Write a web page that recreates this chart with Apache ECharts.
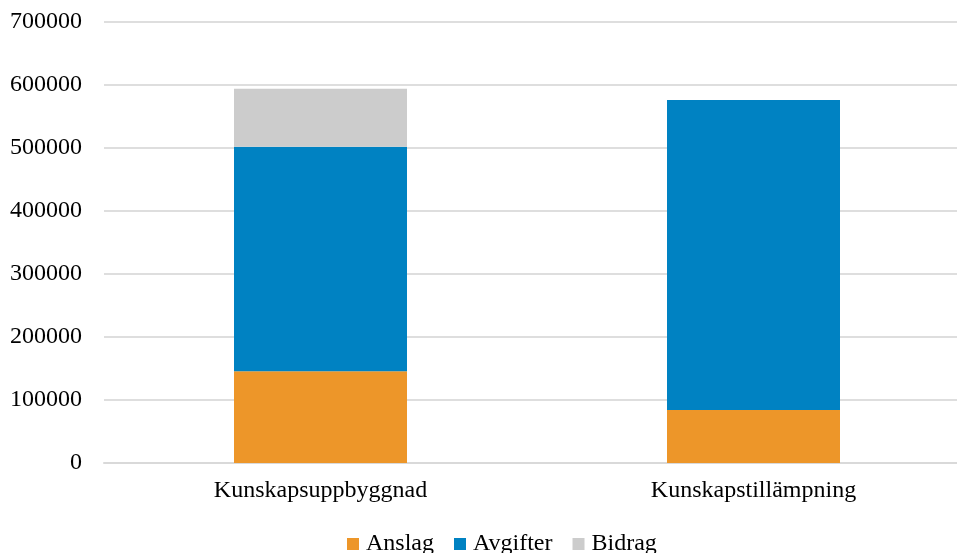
<!DOCTYPE html>
<html>
<head>
<meta charset="utf-8">
<script src="https://cdn.jsdelivr.net/npm/echarts@6/dist/echarts.min.js"></script>
<style>
  html, body { margin: 0; padding: 0; background: #fff; overflow: hidden; width: 957px; height: 553px; }
  #chart { width: 970px; height: 553px; }
</style>
</head>
<body>
<div id="chart"></div>
<script>
// Funding by activity area, stacked by source
const categories = ['Kunskapsuppbyggnad', 'Kunskapstillämpning'];
const anslag = [145500, 84000];
const avgifter = [356500, 492000];
const bidrag = [92000, 0];
const yTicks = [0, 100000, 200000, 300000, 400000, 500000, 600000, 700000];

const font = '"Liberation Serif", "Times New Roman", serif';
const chart = echarts.init(document.getElementById('chart'));

function stackSeries(name, data, color) {
  return {
    name: name,
    type: 'bar',
    stack: 'total',
    data: data,
    barWidth: 173,
    itemStyle: { color: color },
    emphasis: { disabled: true }
  };
}

chart.setOption({
  animation: false,
  backgroundColor: '#ffffff',
  grid: { left: 104, right: 0, top: 22, bottom: 90, containLabel: false },
  legend: {
    data: ['Anslag', 'Avgifter', 'Bidrag'],
    bottom: -8,
    left: 342,
    itemWidth: 12,
    itemHeight: 12,
    itemGap: 20,
    icon: 'rect',
    textStyle: { fontFamily: font, fontSize: 24, color: '#000', padding: [0, 0, 0, 2] }
  },
  xAxis: {
    type: 'category',
    data: categories,
    axisLine: { show: true, lineStyle: { color: '#d9d9d9', width: 2 } },
    axisTick: { show: false },
    axisLabel: { fontFamily: font, fontSize: 24, color: '#000', margin: 16 }
  },
  yAxis: {
    type: 'value',
    min: yTicks[0],
    max: yTicks[yTicks.length - 1],
    interval: yTicks[1] - yTicks[0],
    axisLine: { show: false },
    axisTick: { show: false },
    splitLine: { lineStyle: { color: '#dedede', width: 2 } },
    axisLabel: {
      fontFamily: font, fontSize: 24, color: '#000', margin: 22,
      formatter: function (v) { return String(v); }
    }
  },
  series: [
    stackSeries('Anslag', anslag, '#ED9629'),
    stackSeries('Avgifter', avgifter, '#0082C2'),
    stackSeries('Bidrag', bidrag, '#CCCCCC')
  ]
});
</script>
</body>
</html>
